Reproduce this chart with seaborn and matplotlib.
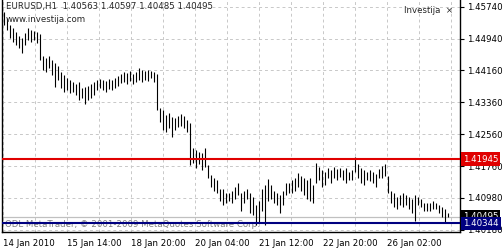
import numpy as np
import pandas as pd
import matplotlib
matplotlib.use("Agg")
import matplotlib.pyplot as plt
import seaborn as sns

# ---- data (EURUSD H1 bars) ----
bar_high = [1.4561, 1.4546, 1.4529, 1.4521, 1.4511, 1.4501, 1.4496, 1.4509, 1.4521, 1.4516,
            1.4514, 1.4511, 1.4506, 1.4451, 1.4446, 1.4451, 1.4441, 1.4434, 1.4426, 1.4411,
            1.4404, 1.4396, 1.4391, 1.4386, 1.4381, 1.4386, 1.4371, 1.4374, 1.4376, 1.4381,
            1.4386, 1.4391, 1.4394, 1.4391, 1.4389, 1.4394, 1.4391, 1.4396, 1.4401, 1.4406,
            1.4411, 1.4409, 1.4414, 1.4406, 1.4411, 1.4421, 1.4416, 1.4414, 1.4416, 1.4414,
            1.4411, 1.4406, 1.4321, 1.4316, 1.4304, 1.4309, 1.4299, 1.4296, 1.4301, 1.4306,
            1.4301, 1.4291, 1.4284, 1.4221, 1.4216, 1.4211, 1.4209, 1.4221, 1.4179, 1.4154,
            1.4146, 1.4141, 1.4121, 1.4119, 1.4111, 1.4109, 1.4116, 1.4126, 1.4134, 1.4111,
            1.4116, 1.4121, 1.4111, 1.4101, 1.4079, 1.4091, 1.4121, 1.4131, 1.4144, 1.4131,
            1.4116, 1.4111, 1.4104, 1.4116, 1.4136, 1.4134, 1.4141, 1.4146, 1.4159, 1.4151,
            1.4146, 1.4141, 1.4146, 1.4129, 1.4184, 1.4174, 1.4166, 1.4161, 1.4171, 1.4166,
            1.4174, 1.4169, 1.4171, 1.4166, 1.4171, 1.4161, 1.4166, 1.4199, 1.4181, 1.4171,
            1.4166, 1.4161, 1.4166, 1.4161, 1.4156, 1.4169, 1.4176, 1.4181, 1.4151, 1.4116,
            1.4109, 1.4101, 1.4104, 1.4109, 1.4106, 1.4101, 1.4096, 1.4104, 1.4101, 1.4096,
            1.4084, 1.4086, 1.4084, 1.4091, 1.4086, 1.4079, 1.4074, 1.4071, 1.4060]
bar_low = [1.4529, 1.4516, 1.4496, 1.4486, 1.4479, 1.4471, 1.4459, 1.4479, 1.4491, 1.4486,
           1.4491, 1.4484, 1.4441, 1.4416, 1.4411, 1.4421, 1.4404, 1.4374, 1.4391, 1.4371,
           1.4361, 1.4366, 1.4359, 1.4361, 1.4354, 1.4341, 1.4346, 1.4331, 1.4341, 1.4346,
           1.4354, 1.4366, 1.4371, 1.4366, 1.4361, 1.4369, 1.4366, 1.4371, 1.4376, 1.4384,
           1.4386, 1.4381, 1.4389, 1.4381, 1.4386, 1.4391, 1.4386, 1.4391, 1.4389, 1.4396,
           1.4386, 1.4316, 1.4286, 1.4266, 1.4261, 1.4271, 1.4249, 1.4266, 1.4274, 1.4276,
           1.4271, 1.4261, 1.4179, 1.4184, 1.4171, 1.4181, 1.4166, 1.4174, 1.4146, 1.4124,
           1.4116, 1.4111, 1.4091, 1.4079, 1.4086, 1.4091, 1.4084, 1.4096, 1.4106, 1.4066,
           1.4086, 1.4094, 1.4061, 1.4054, 1.4031, 1.4036, 1.4066, 1.4031, 1.4091, 1.4096,
           1.4084, 1.4079, 1.4059, 1.4079, 1.4104, 1.4111, 1.4111, 1.4116, 1.4126, 1.4116,
           1.4104, 1.4096, 1.4091, 1.4084, 1.4136, 1.4141, 1.4124, 1.4131, 1.4146, 1.4136,
           1.4146, 1.4141, 1.4149, 1.4141, 1.4136, 1.4141, 1.4141, 1.4161, 1.4146, 1.4136,
           1.4129, 1.4141, 1.4139, 1.4134, 1.4126, 1.4146, 1.4146, 1.4151, 1.4111, 1.4086,
           1.4074, 1.4071, 1.4079, 1.4076, 1.4081, 1.4071, 1.4061, 1.4041, 1.4079, 1.4074,
           1.4066, 1.4066, 1.4064, 1.4071, 1.4071, 1.4059, 1.4051, 1.4036, 1.4049]

time_labels = ["14 Jan 2010", "15 Jan 14:00", "18 Jan 20:00", "20 Jan 04:00",
               "21 Jan 12:00", "22 Jan 20:00", "26 Jan 02:00"]
price_ticks = [1.45740, 1.44940, 1.44160, 1.43360, 1.42560, 1.41760, 1.40980, 1.40180]

header = "EURUSD,H1  1.40563 1.40597 1.40485 1.40495"
resistance = 1.41945
support = 1.40344
last_bid = 1.40495

df = pd.DataFrame({"bar": np.arange(len(bar_high)), "high": bar_high, "low": bar_low})

# ---- styling ----
sns.set_style("white")
plt.rcParams["font.family"] = ["DejaVu Sans"]

W, H = 503, 250
fig = plt.figure(figsize=(W / 100, H / 100), dpi=100)
ax = fig.add_axes([2 / W, 18 / H, 458 / W, 232 / H])

ax.set_xlim(-2 / 3, 152)
ax.set_ylim(1.40126, 1.45910)

# grid
grid_color = "#c8c8c8"
for p in price_ticks:
    ax.axhline(p, color=grid_color, lw=0.7, ls=(0, (3, 3)), zorder=0)
minor_x = np.arange(-1 / 3, 152, 32 / 3)
for xv in minor_x:
    ax.axvline(xv, color=grid_color, lw=0.7, ls=(0, (3, 3)), zorder=0)

# bars
ax.vlines(df["bar"], df["low"], df["high"], color="black", lw=0.8, zorder=3)

# level lines
ax.axhline(last_bid, color="#c0c0c0", lw=0.9, zorder=2)
ax.axhline(resistance, color="#e00000", lw=1.5, zorder=4)
ax.axhline(support, color="#000080", lw=1.5, zorder=4)

# axes / ticks
sns.despine(ax=ax, top=True, right=False, left=False, bottom=False)
for s in ["left", "right", "bottom"]:
    ax.spines[s].set_color("black")
    ax.spines[s].set_linewidth(1.0)
ax.yaxis.tick_right()
ax.set_yticks(price_ticks)
ax.set_yticklabels([f"{p:.5f}" for p in price_ticks], fontsize=6.2)
ax.tick_params(axis="y", direction="out", length=3, width=0.8, pad=2, colors="black")
major_x = np.arange(-1 / 3, 152, 64 / 3)[:len(time_labels)]
ax.set_xticks(major_x)
ax.set_xticklabels(time_labels, fontsize=6.2, ha="left")
ax.tick_params(axis="x", direction="out", length=3, width=0.8, pad=2, colors="black")
for lab in ax.get_xticklabels():
    lab.set_horizontalalignment("left")

# price boxes on right axis
ytr = ax.get_yaxis_transform()
box_kw = dict(transform=ytr, ha="left", va="center", fontsize=6.2, clip_on=False, zorder=6)
ax.text(1.006, last_bid + 0.0002, f"{last_bid:.5f}", color="white",
        bbox=dict(boxstyle="square,pad=0.2", fc="black", ec="none"), **box_kw)
ax.text(1.006, resistance, f"{resistance:.5f}", color="white",
        bbox=dict(boxstyle="square,pad=0.25", fc="#e00000", ec="none"), **box_kw)
ax.text(1.006, support, f"{support:.5f}", color="white",
        bbox=dict(boxstyle="square,pad=0.25", fc="#000080", ec="none"), **box_kw)

# annotations
ax.text(0.008, 0.99, header, transform=ax.transAxes, ha="left", va="top", fontsize=6.2, zorder=7)
ax.text(0.008, 0.935, "www.investija.com", transform=ax.transAxes, ha="left", va="top",
        fontsize=6.2, zorder=7)
ax.text(0.985, 0.975, "Investija  \u00d7", transform=ax.transAxes, ha="right", va="top",
        fontsize=6.2, zorder=7)
ax.text(0.006, 0.015, "ODL MetaTrader, \u00a9 2001-2009 MetaQuotes Software Corp.",
        transform=ax.transAxes, ha="left", va="bottom", fontsize=6.2, color="#808080", zorder=1)

fig.savefig("out.png", dpi=100, facecolor="white")
